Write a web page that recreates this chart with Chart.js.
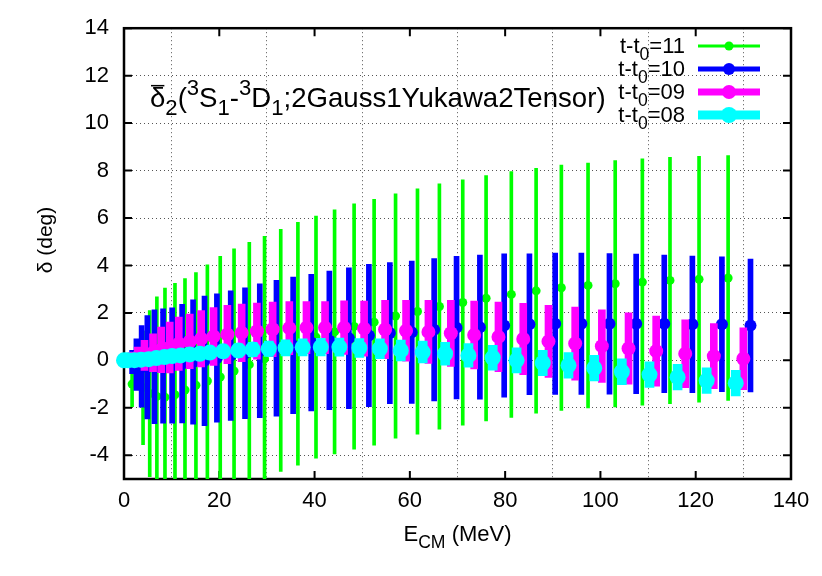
<!DOCTYPE html>
<html>
<head>
<meta charset="utf-8">
<script src="https://cdn.jsdelivr.net/npm/chart.js@4"></script>
<style>
  html, body { margin: 0; background: #fff; }
  canvas { display: block; }
</style>
</head>
<body>
<canvas id="c" width="822" height="576"></canvas>
<script>
"use strict";

// t-t0=11 (green)
const e11 = [0, 1.7, 4.0, 5.4, 6.9, 8.6, 10.7, 12.8, 15.1, 17.5, 20.2, 23.1, 26.3, 29.5, 32.9, 36.5, 40.3, 44.2, 48.3, 52.5,
  57.0, 61.6, 66.2, 71.1, 76.0, 81.3, 86.5, 91.8, 97.4, 103.1, 108.8, 114.6, 120.7, 126.8];
const d11 = [0, -1.0, -1.15, -1.4, -1.52, -1.55, -1.45, -1.25, -1.05, -0.87, -0.7, -0.45, -0.18, 0.07, 0.42, 0.7, 0.98, 1.2, 1.43, 1.61,
  1.87, 2.06, 2.27, 2.44, 2.62, 2.78, 2.93, 3.06, 3.16, 3.23, 3.30, 3.37, 3.42, 3.47];
const err11 = [0, 0.95, 2.4, 3.5, 4.2, 4.6, 4.7, 4.7, 4.75, 4.9, 5.08, 5.15, 5.16, 5.16, 5.1, 5.12, 5.1, 5.14, 5.17, 5.18,
  5.15, 5.17, 5.17, 5.17, 5.17, 5.18, 5.16, 5.17, 5.16, 5.19, 5.19, 5.19, 5.18, 5.16];

// t-t0=10 (blue)
const e10 = [0, 1.7, 2.6, 3.7, 4.9, 6.4, 8.2, 10.1, 12.2, 14.5, 16.9, 19.5, 22.4, 25.4, 28.5, 32.0, 35.5, 39.3, 43.1, 47.2,
  51.4, 55.8, 60.4, 65.1, 69.8, 74.7, 79.8, 85.1, 90.5, 96.0, 101.9, 107.5, 113.4, 119.3, 125.5, 131.5];
const d10 = [0, -0.07, -0.18, -0.25, -0.29, -0.27, -0.24, -0.22, -0.14, -0.07, -0.02, 0.1, 0.2, 0.3, 0.41, 0.51, 0.63, 0.75, 0.84, 0.93,
  1.05, 1.15, 1.19, 1.29, 1.38, 1.40, 1.47, 1.52, 1.54, 1.54, 1.54, 1.54, 1.54, 1.52, 1.52, 1.47];
const err10 = [0, 0.49, 1.09, 1.72, 2.18, 2.4, 2.41, 2.43, 2.5, 2.62, 2.73, 2.7, 2.73, 2.76, 2.82, 2.86, 2.88, 2.88, 2.92, 2.97,
  3.0, 2.97, 3.0, 3.0, 3.0, 3.04, 3.02, 2.97, 2.98, 2.98, 2.96, 2.94, 2.9, 2.88, 2.84, 2.8];

// t-t0=09 (magenta)
const e09 = [0, 1.5, 2.9, 4.3, 6.1, 7.8, 9.6, 11.5, 13.8, 16.2, 18.8, 21.7, 24.7, 27.9, 31.2, 34.7, 38.3, 42.2, 46.2, 50.4,
  54.8, 59.2, 63.9, 68.6, 73.5, 78.6, 83.8, 89.1, 94.7, 100.3, 105.9, 111.7, 117.8, 123.8, 130.0];
const d09 = [0, 0.07, 0.14, 0.21, 0.32, 0.44, 0.54, 0.7, 0.8, 0.91, 1.01, 1.09, 1.16, 1.23, 1.31, 1.36, 1.38, 1.38, 1.38, 1.34,
  1.30, 1.25, 1.2, 1.14, 1.07, 0.99, 0.9, 0.8, 0.71, 0.6, 0.5, 0.39, 0.28, 0.18, 0.07];
const err09 = [0, 0.2, 0.42, 0.63, 0.8, 0.96, 1.07, 1.12, 1.15, 1.19, 1.22, 1.23, 1.21, 1.18, 1.15, 1.12, 1.1, 1.1, 1.13, 1.16,
  1.23, 1.28, 1.33, 1.39, 1.43, 1.47, 1.5, 1.52, 1.54, 1.53, 1.5, 1.48, 1.43, 1.37, 1.3];

// t-t0=08 (cyan)
const e08 = [0, 0.8, 2.2, 3.6, 5.2, 6.8, 8.5, 10.1, 11.9, 13.8, 15.9, 18.0, 20.8, 24.0, 27.0, 30.4, 33.9, 37.5, 41.3, 45.2,
  49.4, 53.7, 58.1, 62.7, 67.4, 72.3, 77.4, 82.4, 87.9, 93.3, 98.7, 104.5, 110.3, 116.2, 122.3, 128.4];
const d08 = [0, 0, 0.01, 0.03, 0.05, 0.1, 0.14, 0.18, 0.21, 0.25, 0.28, 0.33, 0.38, 0.42, 0.46, 0.49, 0.53, 0.55, 0.56, 0.56,
  0.52, 0.49, 0.42, 0.35, 0.28, 0.21, 0.11, 0, -0.11, -0.21, -0.33, -0.48, -0.6, -0.71, -0.85, -0.96];
const err08 = [0, 0.02, 0.05, 0.08, 0.1, 0.12, 0.14, 0.16, 0.18, 0.2, 0.22, 0.24, 0.26, 0.28, 0.3, 0.32, 0.34, 0.36, 0.37, 0.38,
  0.4, 0.42, 0.44, 0.46, 0.48, 0.5, 0.52, 0.53, 0.53, 0.54, 0.54, 0.54, 0.54, 0.54, 0.54, 0.54];

const legendLabels = ["11", "10", "09", "08"];
const xTicks = [0, 20, 40, 60, 80, 100, 120, 140];
const yTicks = [-4, -2, 0, 2, 4, 6, 8, 10, 12, 14];

const FONT = '"Liberation Sans", Arial, Helvetica, sans-serif';

const series = [
  { tag: legendLabels[0], E: e11, d: d11, err: err11, color: "#00ff00", bar: 3, r: 4.5 },
  { tag: legendLabels[1], E: e10, d: d10, err: err10, color: "#0000ff", bar: 5, r: 6 },
  { tag: legendLabels[2], E: e09, d: d09, err: err09, color: "#ff00ff", bar: 7, r: 7 },
  { tag: legendLabels[3], E: e08, d: d08, err: err08, color: "#00ffff", bar: 9, r: 8 },
];

function el(id) { return document.getElementById(id); }

// text with sub/superscripts: parts = [[text, kind], ...]
function drawRich(ctx, parts, x, y, size, align) {
  const fontFor = (k) => ((k === "sub" || k === "sup") ? size * 0.8 : size) + "px " + FONT;
  let w = 0;
  parts.forEach(([t, k]) => { ctx.font = fontFor(k); w += ctx.measureText(t).width; });
  let cx = align === "right" ? x - w : (align === "center" ? x - w / 2 : x);
  ctx.textAlign = "left";
  ctx.textBaseline = "alphabetic";
  parts.forEach(([t, k]) => {
    ctx.font = fontFor(k);
    const dy = k === "sub" ? size * 0.3 : (k === "sup" ? -size * 0.45 : 0);
    ctx.fillText(t, cx, y + dy);
    const tw = ctx.measureText(t).width;
    if (k === "bar") {
      ctx.fillRect(cx + 1, y - size * 0.8, tw - 2, 1.5);
    }
    cx += tw;
  });
}

const titleParts = [["δ", "bar"], ["2", "sub"], ["(", ""], ["3", "sup"], ["S", ""], ["1", "sub"], ["-", ""],
  ["3", "sup"], ["D", ""], ["1", "sub"], [";2Gauss1Yukawa2Tensor)", ""]];

const framePlugin = {
  id: "frame",
  beforeDatasetsDraw(chart) {
    const { ctx, chartArea: a, scales } = chart;
    ctx.save();
    ctx.strokeStyle = "#000";
    ctx.lineWidth = 2.5;
    ctx.strokeRect(a.left, a.top, a.right - a.left, a.bottom - a.top);
    ctx.lineWidth = 2;
    ctx.beginPath();
    const tl = 8;
    yTicks.forEach((v) => {
      const py = scales.y.getPixelForValue(v);
      ctx.moveTo(a.left, py); ctx.lineTo(a.left + tl, py);
      ctx.moveTo(a.right, py); ctx.lineTo(a.right - tl, py);
    });
    xTicks.forEach((v) => {
      const px = scales.x.getPixelForValue(v);
      ctx.moveTo(px, a.bottom); ctx.lineTo(px, a.bottom - tl);
      ctx.moveTo(px, a.top); ctx.lineTo(px, a.top + tl);
    });
    ctx.stroke();
    ctx.restore();
  },
  afterDraw(chart) {
    const { ctx, chartArea: a } = chart;
    ctx.save();
    ctx.fillStyle = "#000";
    ctx.strokeStyle = "#000";
    // label inside plot
    drawRich(ctx, titleParts, 150, 107, 27.6, "left");
    // legend
    const rows = [46, 69, 92, 115];
    series.forEach((s, i) => {
      const y = rows[i];
      ctx.fillStyle = "#000";
      drawRich(ctx, [["t-t", ""], ["0", "sub"], ["=" + s.tag, ""]], 685, y + 7, 22, "right");
      ctx.fillStyle = s.color;
      ctx.fillRect(698, y - s.bar / 2, 62, s.bar);
      ctx.beginPath();
      ctx.arc(729, y, s.r, 0, Math.PI * 2);
      ctx.fill();
    });
    // axis titles
    ctx.fillStyle = "#000";
    drawRich(ctx, [["E", ""], ["CM", "sub"], [" (MeV)", ""]], (a.left + a.right) / 2, 541, 22, "center");
    ctx.translate(52, 240);
    ctx.rotate(-Math.PI / 2);
    drawRich(ctx, [["δ (deg)", ""]], 0, 0, 21, "center");
    ctx.restore();
  },
};

const datasets = [];
series.forEach((s, i) => {
  const base = (series.length - i) * 2;
  datasets.push({
    type: "bar",
    label: "t-t0=" + s.tag + " err",
    data: s.E.map((x, j) => ({ x, y: [s.d[j] - s.err[j], s.d[j] + s.err[j]] })),
    backgroundColor: s.color,
    borderWidth: 0,
    barThickness: s.bar,
    grouped: false,
    order: base,
  });
  datasets.push({
    type: "scatter",
    label: "t-t0=" + s.tag,
    data: s.E.map((x, j) => ({ x, y: s.d[j] })),
    pointRadius: s.r,
    pointBackgroundColor: s.color,
    pointBorderWidth: 0,
    showLine: false,
    clip: false,
    order: base - 1,
  });
});

const tickFont = { family: FONT, size: 22 };

new Chart(el("c"), {
  type: "bar",
  data: { datasets },
  options: {
    responsive: false,
    animation: false,
    events: [],
    layout: { padding: { left: 0, right: 31, top: 27, bottom: 0 } },
    plugins: { legend: { display: false }, tooltip: { enabled: false } },
    scales: {
      x: {
        type: "linear", min: 0, max: 140, offset: false,
        afterBuildTicks: (sc) => { sc.ticks = xTicks.map((v) => ({ value: v })); },
        afterFit: (sc) => { sc.height = 97; },
        grid: { color: "#555", drawTicks: false, lineWidth: 1 },
        border: { display: false, dash: [1, 3] },
        ticks: { color: "#000", font: tickFont, padding: 9, maxRotation: 0 },
      },
      y: {
        type: "linear", min: -5, max: 14,
        afterBuildTicks: (sc) => { sc.ticks = yTicks.map((v) => ({ value: v })); },
        afterFit: (sc) => { sc.width = 124; },
        grid: { color: "#555", drawTicks: false, lineWidth: 1 },
        border: { display: false, dash: [1, 3] },
        ticks: { color: "#000", font: tickFont, padding: 15 },
      },
    },
  },
  plugins: [framePlugin],
});
</script>
</body>
</html>
